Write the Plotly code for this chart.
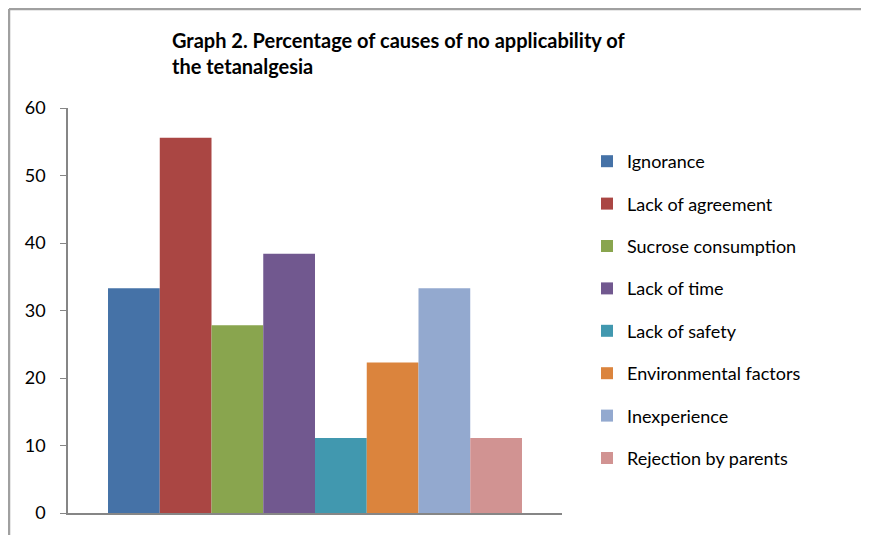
import plotly.graph_objects as go

causes = ["Ignorance", "Lack of agreement", "Sucrose consumption", "Lack of time",
          "Lack of safety", "Environmental factors", "Inexperience", "Rejection by parents"]
percentages = [33.3, 55.6, 27.8, 38.4, 11.1, 22.3, 33.3, 11.1]
colors = ["#4572A7", "#AA4643", "#89A54E", "#71588F",
          "#4198AF", "#DB843D", "#93A9CF", "#D19392"]
y_ticks = [0, 10, 20, 30, 40, 50, 60]

FONT = "Lato"

fig = go.Figure()
for i, (name, val, col) in enumerate(zip(causes, percentages, colors)):
    fig.add_trace(go.Bar(
        x=[""], y=[val], name=name, marker=dict(color=col, line=dict(width=0)),
        legendgroup=f"g{i}", showlegend=True,
    ))

W, H = 869, 535
OFF = 8  # page offset of the figure inside the browser window
L, T = 68 - OFF, 108 - OFF
R = W - (562 - OFF)
B = H - (513 - OFF)
pw, ph = W - L - R, H - T - B

def px_x(sx):
    return (sx - OFF - L) / pw

def px_y(sy):
    return (H - B - (sy - OFF)) / ph

fig.update_layout(
    width=W, height=H,
    margin=dict(l=L, r=R, t=T, b=B, pad=0),
    paper_bgcolor="white", plot_bgcolor="white",
    barmode="group", bargap=0.162, bargroupgap=0,
    font=dict(family=FONT, color="#000000"),
    title=dict(
        text="<b>Graph 2. Percentage of causes of no applicability of<br>the tetanalgesia</b>",
        x=px_x(172), xref="paper", xanchor="left",
        y=1 - 40 / H, yref="container", yanchor="top",
        font=dict(family=FONT, size=20, color="#000000"),
    ),
    xaxis=dict(
        showline=True, linecolor="#868686", linewidth=1.5,
        showticklabels=False, ticks="", showgrid=False, zeroline=False,
        range=[-0.5, 0.5],
    ),
    yaxis=dict(
        range=[0, 60], tickvals=y_ticks, ticktext=[str(v) for v in y_ticks],
        showline=True, linecolor="#868686", linewidth=1.5,
        ticks="outside", ticklen=6, tickcolor="#868686", tickwidth=1,
        showgrid=False, zeroline=False,
        tickfont=dict(family=FONT, size=18, color="#000000"),
        ticklabelstandoff=11,
    ),
    legend=dict(
        x=px_x(587), xanchor="left",
        y=px_y(143), yanchor="top",
        font=dict(family=FONT, size=18, color="#000000"),
        tracegroupgap=16, bgcolor="rgba(0,0,0,0)",
        traceorder="grouped",
    ),
    showlegend=True,
)

# outer frame lines of the original screenshot
fig.add_shape(type="line", xref="paper", yref="paper",
              x0=px_x(OFF + 1), x1=px_x(W + 20),
              y0=px_y(OFF + 1), y1=px_y(OFF + 1),
              line=dict(color="#A0A0A0", width=2.5))
fig.add_shape(type="line", xref="paper", yref="paper",
              x0=px_x(OFF + 1), x1=px_x(OFF + 1),
              y0=px_y(OFF + 1), y1=px_y(H + 20),
              line=dict(color="#A0A0A0", width=2.5))

fig.write_html("out.html")
